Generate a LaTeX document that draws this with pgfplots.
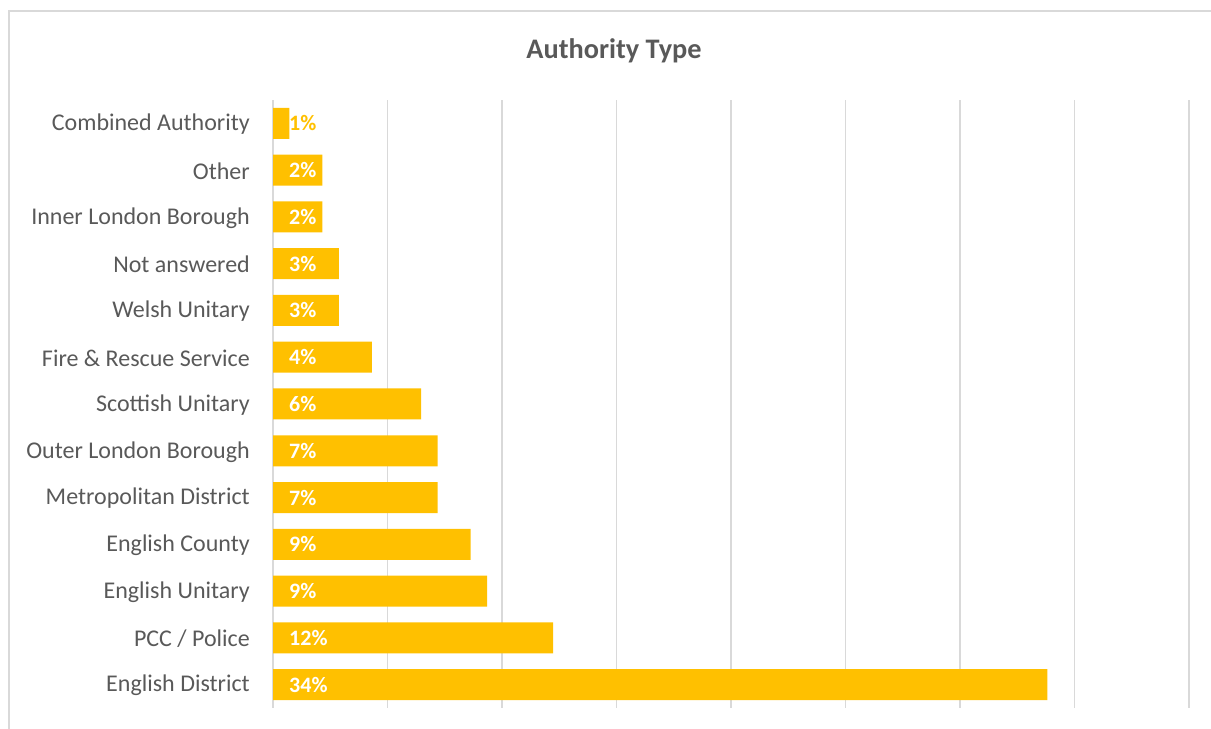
\documentclass[border=0pt]{standalone}
\usepackage{pgfplots}
\pgfplotsset{compat=1.18}
\usepackage{fontspec}
\setmainfont{Carlito}
\definecolor{gold}{HTML}{FFC000}
\definecolor{txt}{HTML}{595959}
\definecolor{gridc}{HTML}{D9D9D9}
\begin{document}
\begin{tikzpicture}[x=1bp,y=1bp]
\path[use as bounding box] (0,0) rectangle (1211,729);
\draw[gridc, line width=2bp] (9,0) -- (9,718) -- (1211,718);
\node[txt, font=\fontsize{28.3bp}{32bp}\selectfont\bfseries] at (614,678) {Authority Type};
\begin{axis}[
  at={(273bp,21bp)}, anchor=south west,
  scale only axis, width=916bp, height=608bp,
  xmin=0, xmax=40, ymin=-0.5, ymax=12.5,
  axis line style={draw=none},
  xtick={0,5,...,40}, xticklabels={},
  xmajorgrids, grid style={gridc, line width=1.8bp},
  major tick length=0pt,
  ytick={0,...,12},
  yticklabels={English District, PCC / Police, English Unitary, English County, Metropolitan District, Outer London Borough, Scottish Unitary, Fire \& Rescue Service, Welsh Unitary, Not answered, Inner London Borough, Other, Combined Authority},
  yticklabel style={anchor=east, inner sep=0pt, xshift=-23bp, yshift=-1bp, text=txt, font=\fontsize{24bp}{28bp}\selectfont},
  clip=false,
]
\addplot[xbar, bar width=31bp, bar shift=0pt, fill=gold, draw=none] coordinates {
 (33.81,0) (12.23,1) (9.35,2) (8.63,3) (7.19,4) (7.19,5) (6.47,6) (4.32,7) (2.88,8) (2.88,9) (2.16,10) (2.16,11) (0.72,12)
};
\addplot[draw=none, mark=none, nodes near coords, point meta=explicit symbolic,
  nodes near coords style={anchor=west, inner sep=0pt, xshift=16bp, text=white, font=\fontsize{22bp}{26bp}\selectfont\bfseries}] coordinates {
 (0,0) [34\%] (0,1) [12\%] (0,2) [9\%] (0,3) [9\%] (0,4) [7\%] (0,5) [7\%] (0,6) [6\%] (0,7) [4\%] (0,8) [3\%] (0,9) [3\%] (0,10) [2\%] (0,11) [2\%]
};
\addplot[draw=none, mark=none, nodes near coords, point meta=explicit symbolic,
  nodes near coords style={anchor=west, inner sep=0pt, xshift=16bp, text=gold, font=\fontsize{22bp}{26bp}\selectfont\bfseries}] coordinates {
 (0,12) [1\%]
};
\end{axis}
\end{tikzpicture}
\end{document}
